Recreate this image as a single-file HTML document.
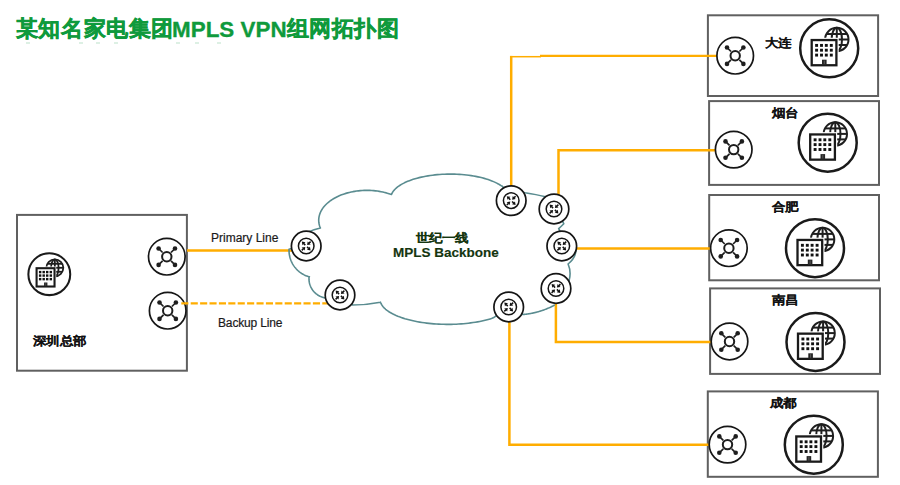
<!DOCTYPE html><html><head><meta charset="utf-8"><style>
html,body{margin:0;padding:0;background:#fff;width:900px;height:485px;overflow:hidden}
body{position:relative;font-family:"Liberation Sans",sans-serif}
.t{position:absolute;white-space:nowrap;line-height:1}
svg{position:absolute;left:0;top:0}
</style></head><body>
<svg width="900" height="485" viewBox="0 0 900 485"><rect x="26" y="42.5" width="4" height="1" fill="#1a9a4a" fill-opacity="0.3"/><rect x="79" y="42.5" width="4" height="1" fill="#1a9a4a" fill-opacity="0.3"/><rect x="96" y="42.5" width="4" height="1" fill="#1a9a4a" fill-opacity="0.3"/><rect x="114" y="42.5" width="4" height="1" fill="#1a9a4a" fill-opacity="0.3"/><rect x="176" y="42.5" width="4" height="1" fill="#1a9a4a" fill-opacity="0.3"/><rect x="195" y="42.5" width="4" height="1" fill="#1a9a4a" fill-opacity="0.3"/><rect x="217" y="42.5" width="4" height="1" fill="#1a9a4a" fill-opacity="0.3"/><rect x="17" y="214.9" width="169.9" height="155.8" fill="none" stroke="#606060" stroke-width="2"/><rect x="707.9" y="15.3" width="170.2" height="80.7" fill="none" stroke="#606060" stroke-width="2"/><rect x="709.1" y="101.1" width="169.9" height="83.8" fill="none" stroke="#606060" stroke-width="2"/><rect x="709.2" y="195.0" width="169.8" height="85.3" fill="none" stroke="#606060" stroke-width="2"/><rect x="710.1" y="288.4" width="169.9" height="85.5" fill="none" stroke="#606060" stroke-width="2"/><rect x="707.8" y="391.4" width="170.1" height="85.4" fill="none" stroke="#606060" stroke-width="2"/><path d="M187 250.4 H300" fill="none" stroke="#FFAD00" stroke-width="2.5"/><path d="M511.2 200 V55.9" fill="none" stroke="#FFAD00" stroke-width="2.5"/><path d="M558.5 209 V150.2 H720" fill="none" stroke="#FFAD00" stroke-width="2.5"/><path d="M562.5 248.5 H715" fill="none" stroke="#FFAD00" stroke-width="2.5"/><path d="M555.9 288.5 V341.9 H715" fill="none" stroke="#FFAD00" stroke-width="2.5"/><path d="M509.4 307 V444.8 H715" fill="none" stroke="#FFAD00" stroke-width="2.5"/><path d="M510 56.7 H541" fill="none" stroke="#FFAD00" stroke-width="1.5"/><path d="M540 55.9 H720" fill="none" stroke="#FFAD00" stroke-width="2.3"/><path d="M306 233 Q313 229.5 320.4 228 M320.40 228.00L319.91 226.86L319.53 225.71L319.22 224.54L318.98 223.37L318.82 222.20L318.73 221.02L318.72 219.84L318.79 218.67L318.93 217.49L319.14 216.32L319.43 215.16L319.79 214.00L320.22 212.85L320.73 211.72L321.31 210.59L321.96 209.48L322.68 208.39L323.47 207.32L324.33 206.27L325.25 205.24L326.24 204.23L327.29 203.25L328.40 202.29L329.58 201.37L330.81 200.47L332.10 199.60L333.44 198.76L334.83 197.96L336.28 197.20L337.77 196.46L339.30 195.77L340.88 195.11L342.51 194.49L344.16 193.92L345.86 193.38L347.58 192.89L349.34 192.43L351.13 192.03L352.94 191.66L354.77 191.34L356.62 191.06L358.48 190.83L360.36 190.65L362.25 190.51L364.15 190.42L366.05 190.37L367.95 190.37L369.85 190.42L371.75 190.51L373.64 190.65L375.52 190.84L377.38 191.07L379.23 191.35L381.06 191.67L382.87 192.04L384.65 192.45L386.41 192.90L388.14 193.40L389.83 193.93L391.50 194.50 M391.50 194.50L391.88 193.52L392.40 192.54L393.03 191.58L393.75 190.63L394.57 189.69L395.48 188.77L396.49 187.86L397.59 186.97L398.78 186.10L400.06 185.25L401.42 184.42L402.87 183.62L404.39 182.84L406.00 182.08L407.68 181.36L409.43 180.66L411.26 179.99L413.15 179.35L415.10 178.75L417.11 178.18L419.18 177.64L421.31 177.14L423.48 176.67L425.70 176.24L427.96 175.85L430.25 175.50L432.59 175.18L434.95 174.91L437.34 174.67L439.75 174.47L442.18 174.32L444.62 174.20L447.07 174.13L449.53 174.09L451.99 174.10L454.44 174.15L456.89 174.24L459.33 174.37L461.75 174.54L464.15 174.76L466.53 175.01L468.88 175.30L471.20 175.63L473.49 176.00L475.73 176.40L477.93 176.85L480.09 177.33L482.19 177.84L484.24 178.39L486.23 178.98L488.16 179.60L490.02 180.24L491.82 180.92L493.54 181.63L495.20 182.37L496.77 183.13L498.27 183.92L499.68 184.74L501.01 185.57L502.40 186.40 M554.30 305.20L553.81 305.46L553.33 305.72L552.84 305.97L552.35 306.22L551.85 306.47L551.36 306.72L550.86 306.96L550.37 307.19L549.87 307.43L549.36 307.66L548.86 307.88L548.36 308.11L547.85 308.33L547.34 308.54L546.84 308.75L546.32 308.96L545.81 309.17L545.30 309.37L544.79 309.57L544.27 309.76L543.75 309.95L543.23 310.14L542.71 310.32L542.19 310.50L541.67 310.68L541.15 310.85L540.62 311.02L540.09 311.19L539.57 311.35L539.04 311.51L538.51 311.66L537.98 311.81L537.45 311.96L536.92 312.10L536.38 312.24L535.85 312.38L535.31 312.51L534.78 312.64L534.24 312.76L533.70 312.88L533.16 313.00L532.62 313.11L532.08 313.22L531.54 313.33L531.00 313.43L530.46 313.53L529.91 313.62L529.37 313.71L528.82 313.80L528.28 313.88L527.73 313.96L527.19 314.04L526.64 314.11L526.09 314.18L525.54 314.24L525.00 314.30L524.45 314.35L523.90 314.41L523.35 314.46L522.80 314.50 M493.70 317.60L492.09 318.31L490.17 318.90L488.20 319.46L486.17 319.99L484.09 320.49L481.96 320.97L479.79 321.42L477.57 321.84L475.31 322.22L473.01 322.58L470.69 322.91L468.33 323.20L465.94 323.46L463.53 323.69L461.09 323.89L458.64 324.05L456.18 324.18L453.70 324.27L451.22 324.34L448.73 324.36L446.24 324.36L443.75 324.32L441.26 324.25L438.79 324.14L436.33 324.00L433.88 323.83L431.46 323.62L429.05 323.38L426.67 323.11L424.32 322.81L422.00 322.47L419.72 322.11L417.47 321.71L415.27 321.28L413.11 320.83L410.99 320.34L408.93 319.83L406.92 319.29L404.96 318.72L403.06 318.12L401.22 317.50L399.45 316.86L397.74 316.19L396.10 315.50L394.53 314.79L393.03 314.05L391.60 313.30L390.25 312.53L388.98 311.74L387.79 310.93L386.68 310.11L385.65 309.27L384.70 308.42L383.84 307.56L383.07 306.69L382.39 305.81L381.79 304.91L381.28 304.01L380.86 303.11L380.50 302.20 M324.90 298.00L324.46 297.73L323.99 297.63L323.52 297.51L323.05 297.39L322.59 297.25L322.13 297.10L321.68 296.94L321.22 296.76L320.78 296.58L320.34 296.38L319.90 296.18L319.47 295.96L319.04 295.73L318.62 295.50L318.21 295.25L317.80 294.99L317.40 294.72L317.01 294.44L316.62 294.15L316.24 293.86L315.87 293.55L315.50 293.23L315.14 292.91L314.80 292.57L314.46 292.23L314.12 291.88L313.80 291.52L313.49 291.15L313.18 290.78L312.89 290.40L312.60 290.01L312.33 289.61L312.06 289.21L311.80 288.80L311.56 288.38L311.32 287.96L311.10 287.53L310.89 287.10L310.68 286.66L310.49 286.22L310.31 285.77L310.14 285.32L309.98 284.86L309.83 284.40L309.70 283.94L309.57 283.47L309.46 283.01L309.36 282.53L309.27 282.06L309.19 281.58L309.13 281.10L309.07 280.62L309.03 280.14L309.00 279.66L308.99 279.18L308.98 278.70L308.99 278.21L309.01 277.73L309.04 277.25L309.40 276.80 M309.40 276.80L308.79 276.68L308.20 276.50L307.62 276.31L307.04 276.10L306.46 275.89L305.89 275.65L305.32 275.41L304.76 275.15L304.21 274.89L303.66 274.60L303.12 274.31L302.58 274.00L302.06 273.69L301.53 273.36L301.02 273.02L300.52 272.66L300.02 272.30L299.53 271.93L299.05 271.54L298.58 271.14L298.11 270.74L297.66 270.32L297.22 269.89L296.78 269.45L296.36 269.01L295.94 268.55L295.54 268.09L295.14 267.61L294.76 267.13L294.39 266.64L294.03 266.14L293.68 265.63L293.34 265.11L293.02 264.59L292.70 264.06L292.40 263.52L292.11 262.98L291.83 262.43L291.57 261.87L291.31 261.31L291.07 260.74L290.85 260.17L290.63 259.59L290.43 259.01L290.24 258.42L290.07 257.83L289.90 257.24L289.76 256.64L289.62 256.04L289.50 255.43L289.39 254.83L289.30 254.22L289.22 253.61L289.15 253.00L289.10 252.38L289.06 251.77L289.03 251.15L289.02 250.53L289.02 249.92L289.00 249.30 M502.4 186.4 L510 195 M511 200 Q520 191.5 525.1 192.7 Q537 194.5 544.4 196.6 L553 207 M553 209 Q562 219 563.8 223.7 Q561 226.5 558.7 228.7 M568.1 264 Q571.5 272 569.1 280.5 L556 288 M574 238 Q580.5 254 568.1 264 M558.7 228.7 L561 233 M509 307 L522.8 314.5 M509 307 L493.7 317.6 M380.5 302.2 Q366 305 352.7 305 L340 295 M289 249.3 L300 246" fill="none" stroke="#5a8c90" stroke-width="1.6" stroke-linejoin="round" stroke-linecap="round"/><g transform="translate(166.8 256.7)"><circle r="18.3" fill="#fff" stroke="#161616" stroke-width="1.7"/><circle r="4.7" fill="none" stroke="#1e1e1e" stroke-width="2.0"/><line x1="-4.20" y1="-4.20" x2="-8.20" y2="-8.20" stroke="#1e1e1e" stroke-width="1.7"/><circle cx="-8.2" cy="-8.2" r="2.3" fill="#1e1e1e"/><line x1="-4.20" y1="4.20" x2="-8.20" y2="8.20" stroke="#1e1e1e" stroke-width="1.7"/><circle cx="-8.2" cy="8.2" r="2.3" fill="#1e1e1e"/><line x1="4.20" y1="-4.20" x2="8.20" y2="-8.20" stroke="#1e1e1e" stroke-width="1.7"/><circle cx="8.2" cy="-8.2" r="2.3" fill="#1e1e1e"/><line x1="4.20" y1="4.20" x2="8.20" y2="8.20" stroke="#1e1e1e" stroke-width="1.7"/><circle cx="8.2" cy="8.2" r="2.3" fill="#1e1e1e"/></g><g transform="translate(167.7 310.7)"><circle r="18.3" fill="#fff" stroke="#161616" stroke-width="1.7"/><circle r="4.7" fill="none" stroke="#1e1e1e" stroke-width="2.0"/><line x1="-4.20" y1="-4.20" x2="-8.20" y2="-8.20" stroke="#1e1e1e" stroke-width="1.7"/><circle cx="-8.2" cy="-8.2" r="2.3" fill="#1e1e1e"/><line x1="-4.20" y1="4.20" x2="-8.20" y2="8.20" stroke="#1e1e1e" stroke-width="1.7"/><circle cx="-8.2" cy="8.2" r="2.3" fill="#1e1e1e"/><line x1="4.20" y1="-4.20" x2="8.20" y2="-8.20" stroke="#1e1e1e" stroke-width="1.7"/><circle cx="8.2" cy="-8.2" r="2.3" fill="#1e1e1e"/><line x1="4.20" y1="4.20" x2="8.20" y2="8.20" stroke="#1e1e1e" stroke-width="1.7"/><circle cx="8.2" cy="8.2" r="2.3" fill="#1e1e1e"/></g><g transform="translate(735.2 55.7)"><circle r="18.3" fill="#fff" stroke="#161616" stroke-width="1.7"/><circle r="4.7" fill="none" stroke="#1e1e1e" stroke-width="2.0"/><line x1="-4.20" y1="-4.20" x2="-8.20" y2="-8.20" stroke="#1e1e1e" stroke-width="1.7"/><circle cx="-8.2" cy="-8.2" r="2.3" fill="#1e1e1e"/><line x1="-4.20" y1="4.20" x2="-8.20" y2="8.20" stroke="#1e1e1e" stroke-width="1.7"/><circle cx="-8.2" cy="8.2" r="2.3" fill="#1e1e1e"/><line x1="4.20" y1="-4.20" x2="8.20" y2="-8.20" stroke="#1e1e1e" stroke-width="1.7"/><circle cx="8.2" cy="-8.2" r="2.3" fill="#1e1e1e"/><line x1="4.20" y1="4.20" x2="8.20" y2="8.20" stroke="#1e1e1e" stroke-width="1.7"/><circle cx="8.2" cy="8.2" r="2.3" fill="#1e1e1e"/></g><g transform="translate(733.7 149.6)"><circle r="18.3" fill="#fff" stroke="#161616" stroke-width="1.7"/><circle r="4.7" fill="none" stroke="#1e1e1e" stroke-width="2.0"/><line x1="-4.20" y1="-4.20" x2="-8.20" y2="-8.20" stroke="#1e1e1e" stroke-width="1.7"/><circle cx="-8.2" cy="-8.2" r="2.3" fill="#1e1e1e"/><line x1="-4.20" y1="4.20" x2="-8.20" y2="8.20" stroke="#1e1e1e" stroke-width="1.7"/><circle cx="-8.2" cy="8.2" r="2.3" fill="#1e1e1e"/><line x1="4.20" y1="-4.20" x2="8.20" y2="-8.20" stroke="#1e1e1e" stroke-width="1.7"/><circle cx="8.2" cy="-8.2" r="2.3" fill="#1e1e1e"/><line x1="4.20" y1="4.20" x2="8.20" y2="8.20" stroke="#1e1e1e" stroke-width="1.7"/><circle cx="8.2" cy="8.2" r="2.3" fill="#1e1e1e"/></g><g transform="translate(728.9 248.2)"><circle r="18.3" fill="#fff" stroke="#161616" stroke-width="1.7"/><circle r="4.7" fill="none" stroke="#1e1e1e" stroke-width="2.0"/><line x1="-4.20" y1="-4.20" x2="-8.20" y2="-8.20" stroke="#1e1e1e" stroke-width="1.7"/><circle cx="-8.2" cy="-8.2" r="2.3" fill="#1e1e1e"/><line x1="-4.20" y1="4.20" x2="-8.20" y2="8.20" stroke="#1e1e1e" stroke-width="1.7"/><circle cx="-8.2" cy="8.2" r="2.3" fill="#1e1e1e"/><line x1="4.20" y1="-4.20" x2="8.20" y2="-8.20" stroke="#1e1e1e" stroke-width="1.7"/><circle cx="8.2" cy="-8.2" r="2.3" fill="#1e1e1e"/><line x1="4.20" y1="4.20" x2="8.20" y2="8.20" stroke="#1e1e1e" stroke-width="1.7"/><circle cx="8.2" cy="8.2" r="2.3" fill="#1e1e1e"/></g><g transform="translate(729.5 341.5)"><circle r="18.3" fill="#fff" stroke="#161616" stroke-width="1.7"/><circle r="4.7" fill="none" stroke="#1e1e1e" stroke-width="2.0"/><line x1="-4.20" y1="-4.20" x2="-8.20" y2="-8.20" stroke="#1e1e1e" stroke-width="1.7"/><circle cx="-8.2" cy="-8.2" r="2.3" fill="#1e1e1e"/><line x1="-4.20" y1="4.20" x2="-8.20" y2="8.20" stroke="#1e1e1e" stroke-width="1.7"/><circle cx="-8.2" cy="8.2" r="2.3" fill="#1e1e1e"/><line x1="4.20" y1="-4.20" x2="8.20" y2="-8.20" stroke="#1e1e1e" stroke-width="1.7"/><circle cx="8.2" cy="-8.2" r="2.3" fill="#1e1e1e"/><line x1="4.20" y1="4.20" x2="8.20" y2="8.20" stroke="#1e1e1e" stroke-width="1.7"/><circle cx="8.2" cy="8.2" r="2.3" fill="#1e1e1e"/></g><g transform="translate(727.5 444.6)"><circle r="18.3" fill="#fff" stroke="#161616" stroke-width="1.7"/><circle r="4.7" fill="none" stroke="#1e1e1e" stroke-width="2.0"/><line x1="-4.20" y1="-4.20" x2="-8.20" y2="-8.20" stroke="#1e1e1e" stroke-width="1.7"/><circle cx="-8.2" cy="-8.2" r="2.3" fill="#1e1e1e"/><line x1="-4.20" y1="4.20" x2="-8.20" y2="8.20" stroke="#1e1e1e" stroke-width="1.7"/><circle cx="-8.2" cy="8.2" r="2.3" fill="#1e1e1e"/><line x1="4.20" y1="-4.20" x2="8.20" y2="-8.20" stroke="#1e1e1e" stroke-width="1.7"/><circle cx="8.2" cy="-8.2" r="2.3" fill="#1e1e1e"/><line x1="4.20" y1="4.20" x2="8.20" y2="8.20" stroke="#1e1e1e" stroke-width="1.7"/><circle cx="8.2" cy="8.2" r="2.3" fill="#1e1e1e"/></g><path d="M181.3 303.3 H330" fill="none" stroke="#FFAD00" stroke-width="2.3" stroke-dasharray="7.1 2.3"/><g transform="translate(306.2 246.0)"><circle r="14.8" fill="#fff" stroke="#151515" stroke-width="1.7"/><circle r="7.8" fill="#fff" stroke="#151515" stroke-width="1.5"/><g stroke="#111" stroke-width="1.5"><line x1="-0.90" y1="-0.90" x2="-2.49" y2="-2.49"/><path d="M-4.40 -4.40L-0.79 -3.76L-3.76 -0.79Z" stroke="none" fill="#111"/><line x1="0.90" y1="0.90" x2="2.49" y2="2.49"/><path d="M4.40 4.40L0.79 3.76L3.76 0.79Z" stroke="none" fill="#111"/><line x1="4.40" y1="-4.40" x2="2.81" y2="-2.81"/><path d="M0.90 -0.90L1.54 -4.51L4.51 -1.54Z" stroke="none" fill="#111"/><line x1="-4.40" y1="4.40" x2="-2.81" y2="2.81"/><path d="M-0.90 0.90L-1.54 4.51L-4.51 1.54Z" stroke="none" fill="#111"/></g></g><g transform="translate(340.0 295.0)"><circle r="14.8" fill="#fff" stroke="#151515" stroke-width="1.7"/><circle r="7.8" fill="#fff" stroke="#151515" stroke-width="1.5"/><g stroke="#111" stroke-width="1.5"><line x1="-0.90" y1="-0.90" x2="-2.49" y2="-2.49"/><path d="M-4.40 -4.40L-0.79 -3.76L-3.76 -0.79Z" stroke="none" fill="#111"/><line x1="0.90" y1="0.90" x2="2.49" y2="2.49"/><path d="M4.40 4.40L0.79 3.76L3.76 0.79Z" stroke="none" fill="#111"/><line x1="4.40" y1="-4.40" x2="2.81" y2="-2.81"/><path d="M0.90 -0.90L1.54 -4.51L4.51 -1.54Z" stroke="none" fill="#111"/><line x1="-4.40" y1="4.40" x2="-2.81" y2="2.81"/><path d="M-0.90 0.90L-1.54 4.51L-4.51 1.54Z" stroke="none" fill="#111"/></g></g><g transform="translate(511.2 200.6)"><circle r="14.8" fill="#fff" stroke="#151515" stroke-width="1.7"/><circle r="7.8" fill="#fff" stroke="#151515" stroke-width="1.5"/><g stroke="#111" stroke-width="1.5"><line x1="-0.90" y1="-0.90" x2="-2.49" y2="-2.49"/><path d="M-4.40 -4.40L-0.79 -3.76L-3.76 -0.79Z" stroke="none" fill="#111"/><line x1="0.90" y1="0.90" x2="2.49" y2="2.49"/><path d="M4.40 4.40L0.79 3.76L3.76 0.79Z" stroke="none" fill="#111"/><line x1="4.40" y1="-4.40" x2="2.81" y2="-2.81"/><path d="M0.90 -0.90L1.54 -4.51L4.51 -1.54Z" stroke="none" fill="#111"/><line x1="-4.40" y1="4.40" x2="-2.81" y2="2.81"/><path d="M-0.90 0.90L-1.54 4.51L-4.51 1.54Z" stroke="none" fill="#111"/></g></g><g transform="translate(554.0 209.0)"><circle r="14.8" fill="#fff" stroke="#151515" stroke-width="1.7"/><circle r="7.8" fill="#fff" stroke="#151515" stroke-width="1.5"/><g stroke="#111" stroke-width="1.5"><line x1="-0.90" y1="-0.90" x2="-2.49" y2="-2.49"/><path d="M-4.40 -4.40L-0.79 -3.76L-3.76 -0.79Z" stroke="none" fill="#111"/><line x1="0.90" y1="0.90" x2="2.49" y2="2.49"/><path d="M4.40 4.40L0.79 3.76L3.76 0.79Z" stroke="none" fill="#111"/><line x1="4.40" y1="-4.40" x2="2.81" y2="-2.81"/><path d="M0.90 -0.90L1.54 -4.51L4.51 -1.54Z" stroke="none" fill="#111"/><line x1="-4.40" y1="4.40" x2="-2.81" y2="2.81"/><path d="M-0.90 0.90L-1.54 4.51L-4.51 1.54Z" stroke="none" fill="#111"/></g></g><g transform="translate(561.8 246.0)"><circle r="14.8" fill="#fff" stroke="#151515" stroke-width="1.7"/><circle r="7.8" fill="#fff" stroke="#151515" stroke-width="1.5"/><g stroke="#111" stroke-width="1.5"><line x1="-0.90" y1="-0.90" x2="-2.49" y2="-2.49"/><path d="M-4.40 -4.40L-0.79 -3.76L-3.76 -0.79Z" stroke="none" fill="#111"/><line x1="0.90" y1="0.90" x2="2.49" y2="2.49"/><path d="M4.40 4.40L0.79 3.76L3.76 0.79Z" stroke="none" fill="#111"/><line x1="4.40" y1="-4.40" x2="2.81" y2="-2.81"/><path d="M0.90 -0.90L1.54 -4.51L4.51 -1.54Z" stroke="none" fill="#111"/><line x1="-4.40" y1="4.40" x2="-2.81" y2="2.81"/><path d="M-0.90 0.90L-1.54 4.51L-4.51 1.54Z" stroke="none" fill="#111"/></g></g><g transform="translate(556.0 288.5)"><circle r="14.8" fill="#fff" stroke="#151515" stroke-width="1.7"/><circle r="7.8" fill="#fff" stroke="#151515" stroke-width="1.5"/><g stroke="#111" stroke-width="1.5"><line x1="-0.90" y1="-0.90" x2="-2.49" y2="-2.49"/><path d="M-4.40 -4.40L-0.79 -3.76L-3.76 -0.79Z" stroke="none" fill="#111"/><line x1="0.90" y1="0.90" x2="2.49" y2="2.49"/><path d="M4.40 4.40L0.79 3.76L3.76 0.79Z" stroke="none" fill="#111"/><line x1="4.40" y1="-4.40" x2="2.81" y2="-2.81"/><path d="M0.90 -0.90L1.54 -4.51L4.51 -1.54Z" stroke="none" fill="#111"/><line x1="-4.40" y1="4.40" x2="-2.81" y2="2.81"/><path d="M-0.90 0.90L-1.54 4.51L-4.51 1.54Z" stroke="none" fill="#111"/></g></g><g transform="translate(508.7 307.0)"><circle r="14.8" fill="#fff" stroke="#151515" stroke-width="1.7"/><circle r="7.8" fill="#fff" stroke="#151515" stroke-width="1.5"/><g stroke="#111" stroke-width="1.5"><line x1="-0.90" y1="-0.90" x2="-2.49" y2="-2.49"/><path d="M-4.40 -4.40L-0.79 -3.76L-3.76 -0.79Z" stroke="none" fill="#111"/><line x1="0.90" y1="0.90" x2="2.49" y2="2.49"/><path d="M4.40 4.40L0.79 3.76L3.76 0.79Z" stroke="none" fill="#111"/><line x1="4.40" y1="-4.40" x2="2.81" y2="-2.81"/><path d="M0.90 -0.90L1.54 -4.51L4.51 -1.54Z" stroke="none" fill="#111"/><line x1="-4.40" y1="4.40" x2="-2.81" y2="2.81"/><path d="M-0.90 0.90L-1.54 4.51L-4.51 1.54Z" stroke="none" fill="#111"/></g></g><g transform="translate(49.30 274.20) scale(0.7267)"><circle r="28.80" fill="#fff" stroke="#1a1a1a" stroke-width="2.80"/><g fill="none" stroke="#1e1e1e" stroke-width="2.50"><circle cx="7.6" cy="-8.8" r="11.7"/><ellipse cx="7.6" cy="-8.8" rx="5.2" ry="11.7"/><line x1="7.6" y1="-20.5" x2="7.6" y2="2.9"/><line x1="-2.7" y1="-14.3" x2="17.9" y2="-14.3"/><line x1="-4.1" y1="-8.8" x2="19.3" y2="-8.8"/><line x1="-2.7" y1="-3.3" x2="17.9" y2="-3.3"/></g><rect x="-17.50" y="-8.25" width="24.70" height="25.20" fill="#fff" stroke="#fff" stroke-width="4.6"/><rect x="-17.50" y="-8.25" width="24.70" height="25.20" fill="#fff" stroke="#1a1a1a" stroke-width="2.88"/><rect x="-14.27" y="-4.57" width="3.33" height="3.33" fill="#111"/><rect x="-14.27" y="0.23" width="3.33" height="3.33" fill="#111"/><rect x="-14.27" y="5.13" width="3.33" height="3.33" fill="#111"/><rect x="-9.37" y="-4.57" width="3.33" height="3.33" fill="#111"/><rect x="-9.37" y="0.23" width="3.33" height="3.33" fill="#111"/><rect x="-9.37" y="5.13" width="3.33" height="3.33" fill="#111"/><rect x="-4.57" y="-4.57" width="3.33" height="3.33" fill="#111"/><rect x="-4.57" y="0.23" width="3.33" height="3.33" fill="#111"/><rect x="-4.57" y="5.13" width="3.33" height="3.33" fill="#111"/><rect x="0.43" y="-4.57" width="3.33" height="3.33" fill="#111"/><rect x="0.43" y="0.23" width="3.33" height="3.33" fill="#111"/><rect x="0.43" y="5.13" width="3.33" height="3.33" fill="#111"/><rect x="-7.2" y="11.4" width="4.6" height="5.4" fill="#262626"/><line x1="-4.9" y1="12.2" x2="-4.9" y2="15.8" stroke="#6a6a6a" stroke-width="0.8"/></g><g transform="translate(829.20 48.30) scale(1.0000)"><circle r="29.00" fill="#fff" stroke="#1a1a1a" stroke-width="2.50"/><g fill="none" stroke="#1e1e1e" stroke-width="2.00"><circle cx="7.6" cy="-8.8" r="11.7"/><ellipse cx="7.6" cy="-8.8" rx="5.2" ry="11.7"/><line x1="7.6" y1="-20.5" x2="7.6" y2="2.9"/><line x1="-2.7" y1="-14.3" x2="17.9" y2="-14.3"/><line x1="-4.1" y1="-8.8" x2="19.3" y2="-8.8"/><line x1="-2.7" y1="-3.3" x2="17.9" y2="-3.3"/></g><rect x="-17.50" y="-8.25" width="24.70" height="25.20" fill="#fff" stroke="#fff" stroke-width="4.6"/><rect x="-17.50" y="-8.25" width="24.70" height="25.20" fill="#fff" stroke="#1a1a1a" stroke-width="2.30"/><rect x="-14.05" y="-4.35" width="2.90" height="2.90" fill="#111"/><rect x="-14.05" y="0.45" width="2.90" height="2.90" fill="#111"/><rect x="-14.05" y="5.35" width="2.90" height="2.90" fill="#111"/><rect x="-9.15" y="-4.35" width="2.90" height="2.90" fill="#111"/><rect x="-9.15" y="0.45" width="2.90" height="2.90" fill="#111"/><rect x="-9.15" y="5.35" width="2.90" height="2.90" fill="#111"/><rect x="-4.35" y="-4.35" width="2.90" height="2.90" fill="#111"/><rect x="-4.35" y="0.45" width="2.90" height="2.90" fill="#111"/><rect x="-4.35" y="5.35" width="2.90" height="2.90" fill="#111"/><rect x="0.65" y="-4.35" width="2.90" height="2.90" fill="#111"/><rect x="0.65" y="0.45" width="2.90" height="2.90" fill="#111"/><rect x="0.65" y="5.35" width="2.90" height="2.90" fill="#111"/><rect x="-7.2" y="11.4" width="4.6" height="5.4" fill="#262626"/><line x1="-4.9" y1="12.2" x2="-4.9" y2="15.8" stroke="#6a6a6a" stroke-width="0.8"/></g><g transform="translate(827.70 142.70) scale(1.0000)"><circle r="29.00" fill="#fff" stroke="#1a1a1a" stroke-width="2.50"/><g fill="none" stroke="#1e1e1e" stroke-width="2.00"><circle cx="7.6" cy="-8.8" r="11.7"/><ellipse cx="7.6" cy="-8.8" rx="5.2" ry="11.7"/><line x1="7.6" y1="-20.5" x2="7.6" y2="2.9"/><line x1="-2.7" y1="-14.3" x2="17.9" y2="-14.3"/><line x1="-4.1" y1="-8.8" x2="19.3" y2="-8.8"/><line x1="-2.7" y1="-3.3" x2="17.9" y2="-3.3"/></g><rect x="-17.50" y="-8.25" width="24.70" height="25.20" fill="#fff" stroke="#fff" stroke-width="4.6"/><rect x="-17.50" y="-8.25" width="24.70" height="25.20" fill="#fff" stroke="#1a1a1a" stroke-width="2.30"/><rect x="-14.05" y="-4.35" width="2.90" height="2.90" fill="#111"/><rect x="-14.05" y="0.45" width="2.90" height="2.90" fill="#111"/><rect x="-14.05" y="5.35" width="2.90" height="2.90" fill="#111"/><rect x="-9.15" y="-4.35" width="2.90" height="2.90" fill="#111"/><rect x="-9.15" y="0.45" width="2.90" height="2.90" fill="#111"/><rect x="-9.15" y="5.35" width="2.90" height="2.90" fill="#111"/><rect x="-4.35" y="-4.35" width="2.90" height="2.90" fill="#111"/><rect x="-4.35" y="0.45" width="2.90" height="2.90" fill="#111"/><rect x="-4.35" y="5.35" width="2.90" height="2.90" fill="#111"/><rect x="0.65" y="-4.35" width="2.90" height="2.90" fill="#111"/><rect x="0.65" y="0.45" width="2.90" height="2.90" fill="#111"/><rect x="0.65" y="5.35" width="2.90" height="2.90" fill="#111"/><rect x="-7.2" y="11.4" width="4.6" height="5.4" fill="#262626"/><line x1="-4.9" y1="12.2" x2="-4.9" y2="15.8" stroke="#6a6a6a" stroke-width="0.8"/></g><g transform="translate(815.00 248.20) scale(1.0000)"><circle r="29.00" fill="#fff" stroke="#1a1a1a" stroke-width="2.50"/><g fill="none" stroke="#1e1e1e" stroke-width="2.00"><circle cx="7.6" cy="-8.8" r="11.7"/><ellipse cx="7.6" cy="-8.8" rx="5.2" ry="11.7"/><line x1="7.6" y1="-20.5" x2="7.6" y2="2.9"/><line x1="-2.7" y1="-14.3" x2="17.9" y2="-14.3"/><line x1="-4.1" y1="-8.8" x2="19.3" y2="-8.8"/><line x1="-2.7" y1="-3.3" x2="17.9" y2="-3.3"/></g><rect x="-17.50" y="-8.25" width="24.70" height="25.20" fill="#fff" stroke="#fff" stroke-width="4.6"/><rect x="-17.50" y="-8.25" width="24.70" height="25.20" fill="#fff" stroke="#1a1a1a" stroke-width="2.30"/><rect x="-14.05" y="-4.35" width="2.90" height="2.90" fill="#111"/><rect x="-14.05" y="0.45" width="2.90" height="2.90" fill="#111"/><rect x="-14.05" y="5.35" width="2.90" height="2.90" fill="#111"/><rect x="-9.15" y="-4.35" width="2.90" height="2.90" fill="#111"/><rect x="-9.15" y="0.45" width="2.90" height="2.90" fill="#111"/><rect x="-9.15" y="5.35" width="2.90" height="2.90" fill="#111"/><rect x="-4.35" y="-4.35" width="2.90" height="2.90" fill="#111"/><rect x="-4.35" y="0.45" width="2.90" height="2.90" fill="#111"/><rect x="-4.35" y="5.35" width="2.90" height="2.90" fill="#111"/><rect x="0.65" y="-4.35" width="2.90" height="2.90" fill="#111"/><rect x="0.65" y="0.45" width="2.90" height="2.90" fill="#111"/><rect x="0.65" y="5.35" width="2.90" height="2.90" fill="#111"/><rect x="-7.2" y="11.4" width="4.6" height="5.4" fill="#262626"/><line x1="-4.9" y1="12.2" x2="-4.9" y2="15.8" stroke="#6a6a6a" stroke-width="0.8"/></g><g transform="translate(815.50 341.90) scale(1.0000)"><circle r="29.00" fill="#fff" stroke="#1a1a1a" stroke-width="2.50"/><g fill="none" stroke="#1e1e1e" stroke-width="2.00"><circle cx="7.6" cy="-8.8" r="11.7"/><ellipse cx="7.6" cy="-8.8" rx="5.2" ry="11.7"/><line x1="7.6" y1="-20.5" x2="7.6" y2="2.9"/><line x1="-2.7" y1="-14.3" x2="17.9" y2="-14.3"/><line x1="-4.1" y1="-8.8" x2="19.3" y2="-8.8"/><line x1="-2.7" y1="-3.3" x2="17.9" y2="-3.3"/></g><rect x="-17.50" y="-8.25" width="24.70" height="25.20" fill="#fff" stroke="#fff" stroke-width="4.6"/><rect x="-17.50" y="-8.25" width="24.70" height="25.20" fill="#fff" stroke="#1a1a1a" stroke-width="2.30"/><rect x="-14.05" y="-4.35" width="2.90" height="2.90" fill="#111"/><rect x="-14.05" y="0.45" width="2.90" height="2.90" fill="#111"/><rect x="-14.05" y="5.35" width="2.90" height="2.90" fill="#111"/><rect x="-9.15" y="-4.35" width="2.90" height="2.90" fill="#111"/><rect x="-9.15" y="0.45" width="2.90" height="2.90" fill="#111"/><rect x="-9.15" y="5.35" width="2.90" height="2.90" fill="#111"/><rect x="-4.35" y="-4.35" width="2.90" height="2.90" fill="#111"/><rect x="-4.35" y="0.45" width="2.90" height="2.90" fill="#111"/><rect x="-4.35" y="5.35" width="2.90" height="2.90" fill="#111"/><rect x="0.65" y="-4.35" width="2.90" height="2.90" fill="#111"/><rect x="0.65" y="0.45" width="2.90" height="2.90" fill="#111"/><rect x="0.65" y="5.35" width="2.90" height="2.90" fill="#111"/><rect x="-7.2" y="11.4" width="4.6" height="5.4" fill="#262626"/><line x1="-4.9" y1="12.2" x2="-4.9" y2="15.8" stroke="#6a6a6a" stroke-width="0.8"/></g><g transform="translate(813.80 444.70) scale(1.0000)"><circle r="29.00" fill="#fff" stroke="#1a1a1a" stroke-width="2.50"/><g fill="none" stroke="#1e1e1e" stroke-width="2.00"><circle cx="7.6" cy="-8.8" r="11.7"/><ellipse cx="7.6" cy="-8.8" rx="5.2" ry="11.7"/><line x1="7.6" y1="-20.5" x2="7.6" y2="2.9"/><line x1="-2.7" y1="-14.3" x2="17.9" y2="-14.3"/><line x1="-4.1" y1="-8.8" x2="19.3" y2="-8.8"/><line x1="-2.7" y1="-3.3" x2="17.9" y2="-3.3"/></g><rect x="-17.50" y="-8.25" width="24.70" height="25.20" fill="#fff" stroke="#fff" stroke-width="4.6"/><rect x="-17.50" y="-8.25" width="24.70" height="25.20" fill="#fff" stroke="#1a1a1a" stroke-width="2.30"/><rect x="-14.05" y="-4.35" width="2.90" height="2.90" fill="#111"/><rect x="-14.05" y="0.45" width="2.90" height="2.90" fill="#111"/><rect x="-14.05" y="5.35" width="2.90" height="2.90" fill="#111"/><rect x="-9.15" y="-4.35" width="2.90" height="2.90" fill="#111"/><rect x="-9.15" y="0.45" width="2.90" height="2.90" fill="#111"/><rect x="-9.15" y="5.35" width="2.90" height="2.90" fill="#111"/><rect x="-4.35" y="-4.35" width="2.90" height="2.90" fill="#111"/><rect x="-4.35" y="0.45" width="2.90" height="2.90" fill="#111"/><rect x="-4.35" y="5.35" width="2.90" height="2.90" fill="#111"/><rect x="0.65" y="-4.35" width="2.90" height="2.90" fill="#111"/><rect x="0.65" y="0.45" width="2.90" height="2.90" fill="#111"/><rect x="0.65" y="5.35" width="2.90" height="2.90" fill="#111"/><rect x="-7.2" y="11.4" width="4.6" height="5.4" fill="#262626"/><line x1="-4.9" y1="12.2" x2="-4.9" y2="15.8" stroke="#6a6a6a" stroke-width="0.8"/></g></svg>
<div class="t" style="left:15.8px;top:17.8px;font-size:22.0px;font-weight:bold;color:#0f9a3c;-webkit-text-stroke:0.45px currentColor;letter-spacing:0.6px;">某知名家电集团</div>
<div class="t" style="left:171.6px;top:18.6px;font-size:22.0px;font-weight:bold;color:#0f9a3c;transform-origin:0 80%;transform:scale(1.02,1.03);-webkit-text-stroke:0.3px currentColor;">MPLS VPN</div>
<div class="t" style="left:286.5px;top:17.8px;font-size:22.0px;font-weight:bold;color:#0f9a3c;-webkit-text-stroke:0.45px currentColor;letter-spacing:0.6px;">组网拓扑图</div>
<div class="t" style="left:211.0px;top:232.4px;font-size:12.0px;font-weight:normal;color:#1a1a1a;-webkit-text-stroke:0.2px currentColor;">Primary Line</div>
<div class="t" style="left:218.0px;top:317.4px;font-size:12.0px;font-weight:normal;color:#1a1a1a;letter-spacing:-0.15px;-webkit-text-stroke:0.2px currentColor;">Backup Line</div>
<div class="t" style="left:416.0px;top:230.7px;font-size:13.0px;font-weight:bold;color:#14350f;-webkit-text-stroke:0.12px currentColor;transform:scaleY(0.89);transform-origin:50% 50%;">世纪一线</div>
<div class="t" style="left:393.0px;top:246.3px;font-size:13.5px;font-weight:bold;color:#14350f;-webkit-text-stroke:0.15px currentColor;">MPLS Backbone</div>
<div class="t" style="left:33.2px;top:334.3px;font-size:13.0px;font-weight:bold;color:#111;-webkit-text-stroke:0.12px currentColor;transform:scaleY(0.89);transform-origin:50% 50%;letter-spacing:0.3px;">深圳总部</div>
<div class="t" style="left:764.5px;top:36.0px;font-size:13.0px;font-weight:bold;color:#111;-webkit-text-stroke:0.12px currentColor;transform:scaleY(0.89);transform-origin:50% 50%;">大连</div>
<div class="t" style="left:771.5px;top:105.5px;font-size:13.0px;font-weight:bold;color:#111;-webkit-text-stroke:0.12px currentColor;transform:scaleY(0.89);transform-origin:50% 50%;">烟台</div>
<div class="t" style="left:771.5px;top:200.3px;font-size:13.0px;font-weight:bold;color:#111;-webkit-text-stroke:0.12px currentColor;transform:scaleY(0.89);transform-origin:50% 50%;">合肥</div>
<div class="t" style="left:772.0px;top:293.1px;font-size:13.0px;font-weight:bold;color:#111;-webkit-text-stroke:0.12px currentColor;transform:scaleY(0.89);transform-origin:50% 50%;">南昌</div>
<div class="t" style="left:769.5px;top:396.3px;font-size:13.0px;font-weight:bold;color:#111;-webkit-text-stroke:0.12px currentColor;transform:scaleY(0.89);transform-origin:50% 50%;">成都</div>
</body></html>
